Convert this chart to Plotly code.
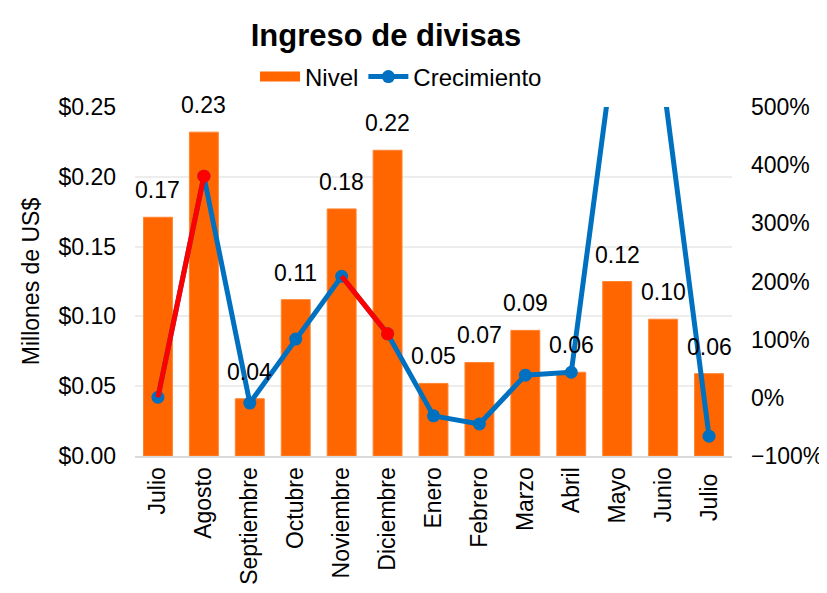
import plotly.graph_objects as go

months = ["Julio", "Agosto", "Septiembre", "Octubre", "Noviembre", "Diciembre",
          "Enero", "Febrero", "Marzo", "Abril", "Mayo", "Junio", "Julio "]
nivel = [0.171, 0.232, 0.041, 0.112, 0.177, 0.219, 0.052, 0.067, 0.090, 0.060, 0.125, 0.098, 0.059]
crecimiento = [1, 381, -9, 101, 209, 110, -31, -45, 39, 44, 640, 545, -66]
red_segments = [(0, 1), (4, 5)]

FONT = "Liberation Sans, Arial, sans-serif"
ORANGE = "#FF6600"
BLUE = "#0070C0"
RED = "#FF0000"

fig = go.Figure()
fig.add_trace(go.Bar(x=months, y=nivel, name="Nivel", showlegend=False,
                     marker=dict(color=ORANGE, line=dict(color="#FF8533", width=1)), yaxis="y"))
# legend entry for the bars (wide rectangle swatch)
fig.add_trace(go.Scatter(x=[None], y=[None], name="Nivel", mode="lines",
                         line=dict(color=ORANGE, width=18), yaxis="y"))
fig.add_trace(go.Scatter(x=months, y=crecimiento, name="Crecimiento", mode="lines+markers",
                         line=dict(color=BLUE, width=5), marker=dict(color=BLUE, size=13),
                         yaxis="y2"))
for a, b in red_segments:
    fig.add_trace(go.Scatter(x=[months[a], months[b]], y=[crecimiento[a], crecimiento[b]],
                             mode="lines", line=dict(color=RED, width=5), showlegend=False,
                             hoverinfo="skip", yaxis="y2"))
    fig.add_trace(go.Scatter(x=[months[b]], y=[crecimiento[b]], mode="markers",
                             marker=dict(color=RED, size=13), showlegend=False,
                             hoverinfo="skip", yaxis="y2"))

for m, v in zip(months, nivel):
    fig.add_annotation(x=m, y=v, xref="x", yref="y", text=f"{v:.2f}", showarrow=False,
                       yanchor="bottom", yshift=12, font=dict(size=23, color="black", family=FONT))

fig.update_layout(
    width=827, height=593,
    margin=dict(l=127, r=103, t=99, b=145, autoexpand=False),
    paper_bgcolor="white", plot_bgcolor="white",
    font=dict(family=FONT, size=23, color="black"),
    title=dict(text="<b>Ingreso de divisas</b>", x=0.457, xref="container", xanchor="center",
               y=0.954, yref="container", yanchor="middle", font=dict(size=31, family=FONT)),
    bargap=0.37,
    legend=dict(orientation="h", x=0.4456, xanchor="center", y=1.086, yanchor="middle",
                font=dict(size=24, family=FONT), bgcolor="rgba(0,0,0,0)", itemwidth=40,
                tracegroupgap=0),
    xaxis=dict(tickangle=-90, showline=True, linecolor="#D9D9D9", linewidth=2, ticks="",
               range=[-0.5, 12.5], automargin=False),
    yaxis=dict(range=[0, 0.25], dtick=0.05, tickprefix="$", tickformat=".2f",
               showgrid=True, gridcolor="#EDEDED", gridwidth=2, zeroline=False,
               title=dict(text="Millones de US$", font=dict(size=23), standoff=12),
               ticks="", ticklabelstandoff=18, automargin=False),
    yaxis2=dict(range=[-100, 500], dtick=100, ticksuffix="%", overlaying="y", side="right",
                showgrid=False, zeroline=False, ticks="", ticklabelstandoff=18, automargin=False),
)

fig.write_html("out.html")
